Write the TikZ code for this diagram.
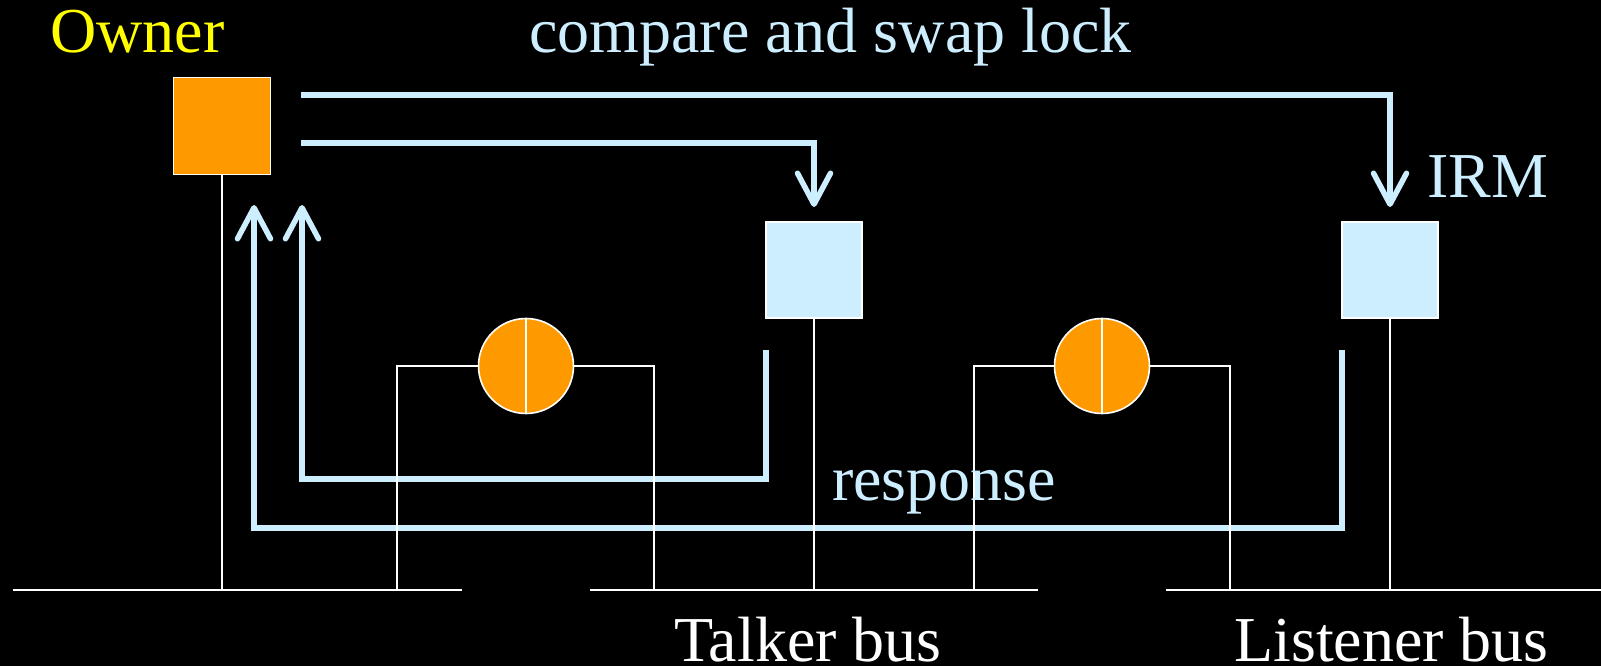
\documentclass[tikz,border=0pt]{standalone}
\usepackage{fontspec}
\setmainfont{Liberation Serif}
\usetikzlibrary{arrows.meta}
\definecolor{orng}{HTML}{FF9900}
\definecolor{lblue}{HTML}{CCEEFF}
\definecolor{yel}{HTML}{FFFF00}
\begin{document}
\begin{tikzpicture}[x=1pt,y=-1pt,
  wire/.style={draw=white,line width=1.6pt},
  sig/.style={draw=lblue,line width=5.5pt,line join=miter},
  sigarrow/.style={sig,-{Straight Barb[length=31pt,width=33pt,round]}},
  ownerbox/.style={rectangle,draw=white,line width=1.6pt,fill=orng,minimum size=97pt,inner sep=0pt},
  devbox/.style={rectangle,draw=white,line width=1.6pt,fill=lblue,minimum size=96pt,inner sep=0pt},
  lockcirc/.style={circle,draw=white,line width=1.6pt,fill=orng,minimum size=95pt,inner sep=0pt},
  lbl/.style={font=\fontsize{64}{76}\selectfont,anchor=base west,inner sep=0pt}]
\useasboundingbox[fill=black] (0,0) rectangle (1601,666);

% nodes
\node[ownerbox] (owner) at (222,126) {};
\node[devbox] (talker) at (814,270) {};
\node[devbox] (irm) at (1390,270) {};
\node[lockcirc] (c1) at (526,366) {};
\node[lockcirc] (c2) at (1102,366) {};

% coordinates
\coordinate (b1l) at (13,590);
\coordinate (b1r) at (462,590);
\coordinate (b2l) at (590,590);
\coordinate (b2r) at (1038,590);
\coordinate (b3l) at (1166,590);
\coordinate (b3r) at (1601,590);
\coordinate (r1a) at (397,590);
\coordinate (r1b) at (654,590);
\coordinate (r2a) at (974,590);
\coordinate (r2b) at (1230,590);

\coordinate (s1) at (301,95);
\coordinate (s2) at (301,143);
\coordinate (t1) at (1390,207);
\coordinate (t2) at (814,207);
\coordinate (q1) at (766,350);
\coordinate (q2) at (1342,350);
\coordinate (u1) at (302,205);
\coordinate (u2) at (254,205);

% signal lines
\draw[sigarrow] (s1) -- (s1 -| t1) -- (t1);
\draw[sigarrow] (s2) -- (s2 -| t2) -- (t2);
\draw[sigarrow] (q1) -- (766,479) -- (302,479) -- (u1);
\draw[sigarrow] (q2) -- (1342,528) -- (254,528) -- (u2);

% buses
\draw[wire] (b1l) -- (b1r);
\draw[wire] (b2l) -- (b2r);
\draw[wire] (b3l) -- (b3r);
\draw[wire] (owner.south) -- (owner.south |- b1l);
\draw[wire] (talker.south) -- (talker.south |- b2l);
\draw[wire] (irm.south) -- (irm.south |- b3l);
\draw[wire] (r1a) -- (r1a |- c1.west) -- (c1.west);
\draw[wire] (c1.east) -- (c1.east -| r1b) -- (r1b);
\draw[wire] (r2a) -- (r2a |- c2.west) -- (c2.west);
\draw[wire] (c2.east) -- (c2.east -| r2b) -- (r2b);
\draw[wire] (c1.north) -- (c1.south);
\draw[wire] (c2.north) -- (c2.south);

% labels
\node[lbl,text=yel] (ownerlbl) at (50,53) {Owner};
\node[lbl,text=lblue] (caslbl) at (529,53) {compare and swap lock};
\node[lbl,text=lblue] (irmlbl) at (1427,197) {IRM};
\node[lbl,text=lblue] (resplbl) at (832,500) {response};
\node[lbl,text=white,text depth=0pt] (talklbl) at (674,661) {Talker bus};
\node[lbl,text=white,text depth=0pt] (listlbl) at (1234,661) {Listener bus};
\end{tikzpicture}
\end{document}
